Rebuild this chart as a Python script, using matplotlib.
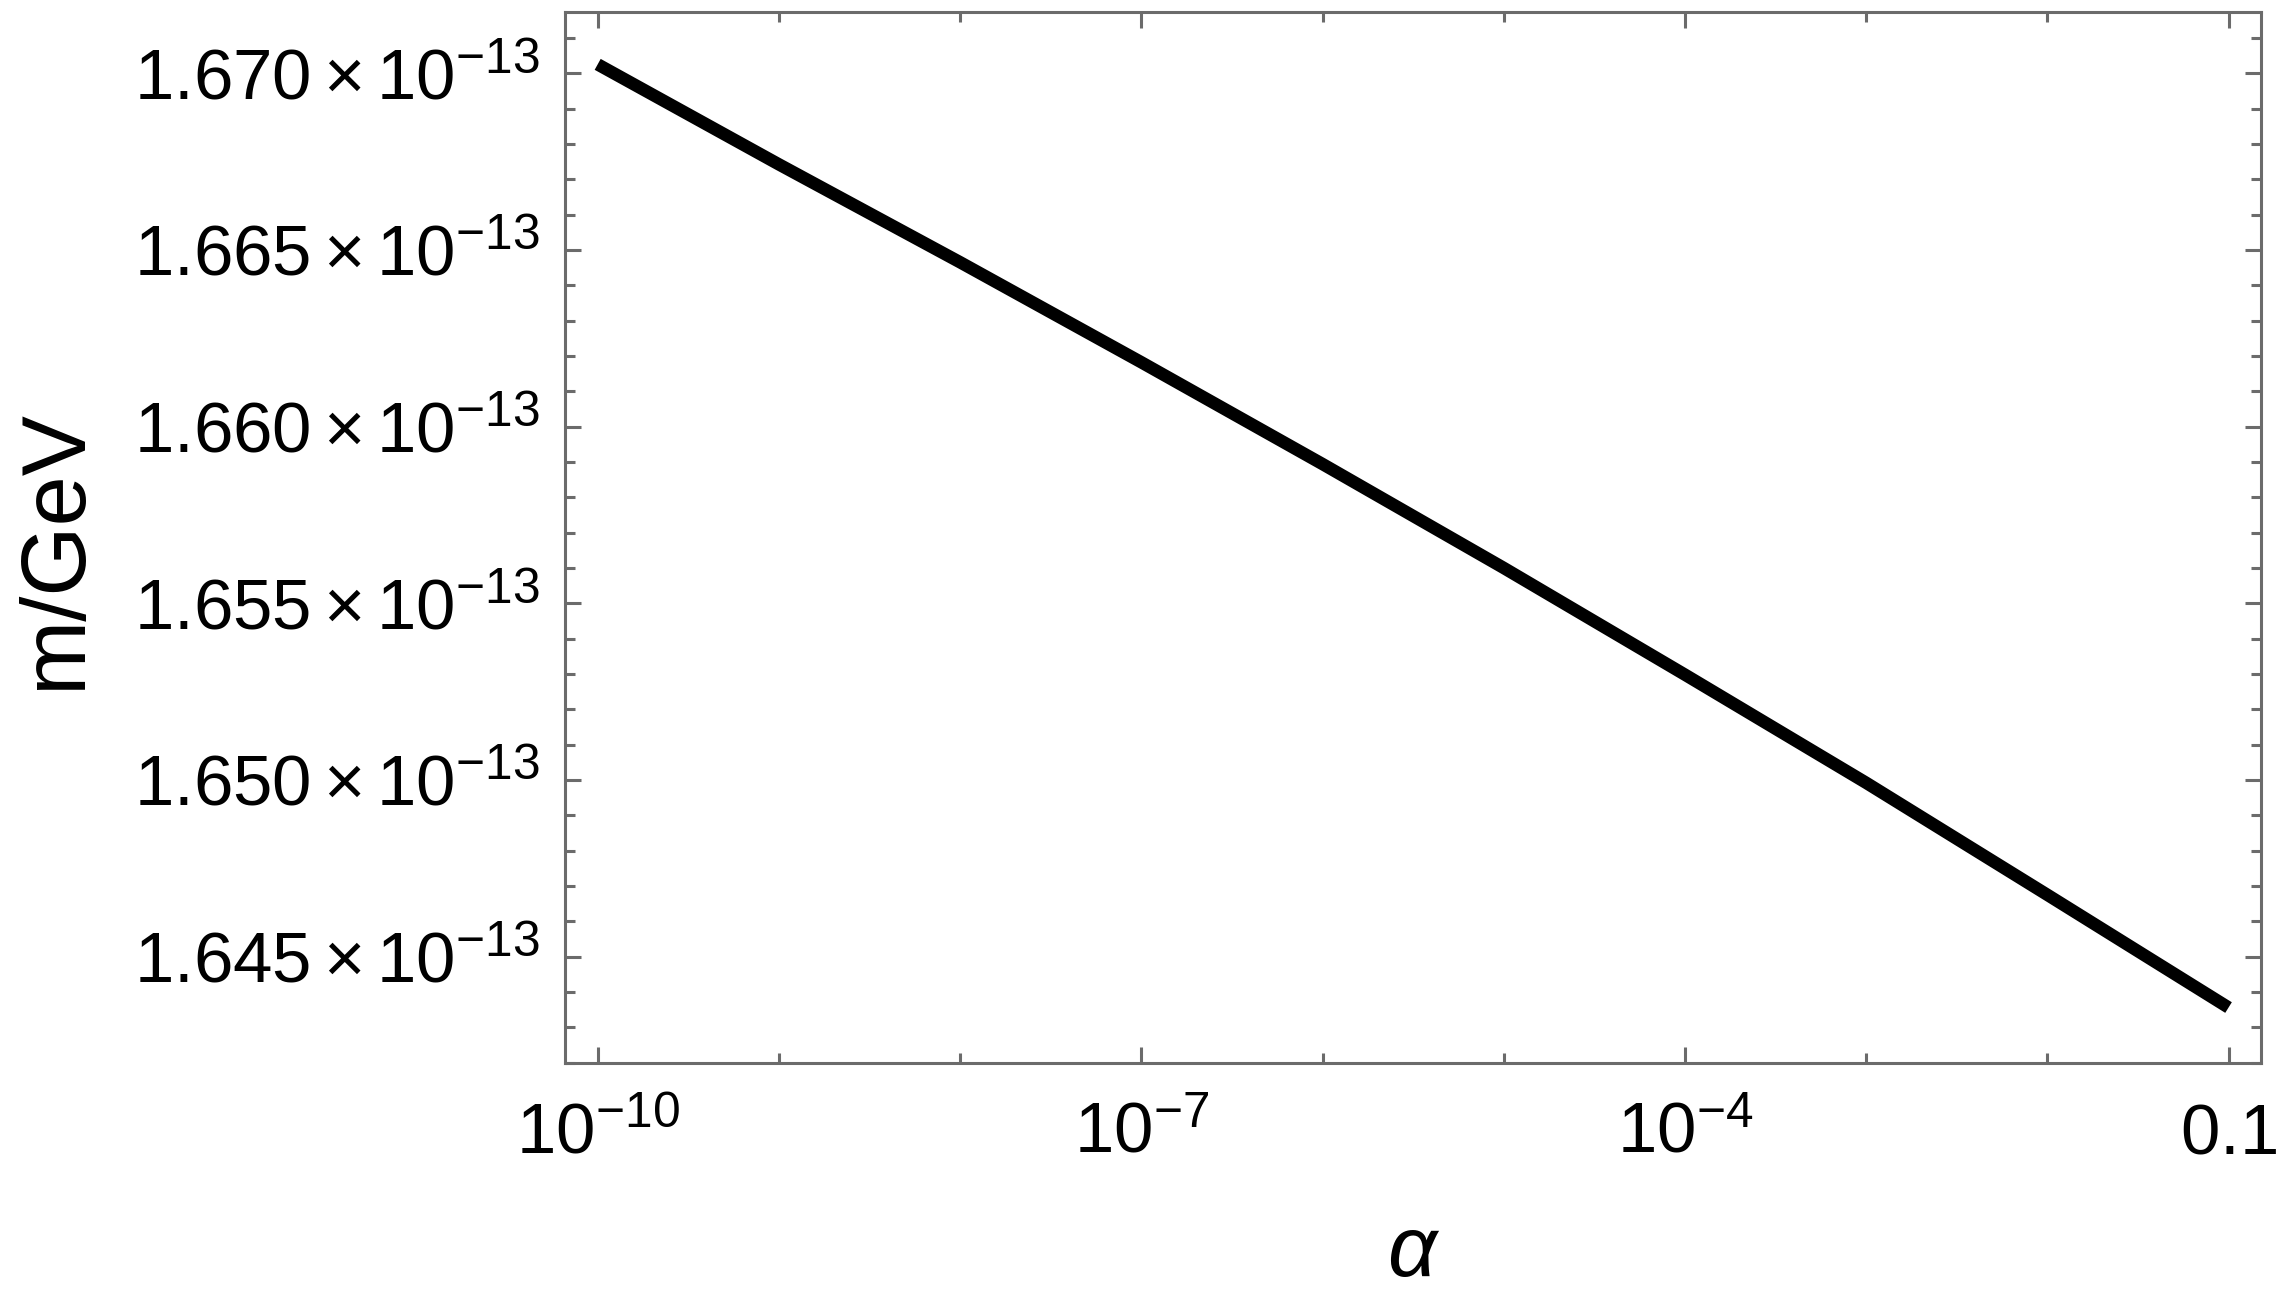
import numpy as np
import matplotlib
matplotlib.use("Agg")
import matplotlib.pyplot as plt

# ----- DATA (m in units of 1e-13 GeV) -----
alpha = [1e-10, 1e-9, 1e-8, 1e-7, 1e-6, 1e-5, 1e-4, 1e-3, 1e-2, 1e-1]
mass = [1.67025, 1.66742, 1.66465, 1.66182, 1.65894,
        1.65600, 1.65298, 1.64992, 1.64675, 1.64356]

x_ticks = [1e-10, 1e-7, 1e-4, 1e-1]
x_labels = [r'$10^{-10}$', r'$10^{-7}$', r'$10^{-4}$', r'$0.1$']
y_ticks = [1.645, 1.650, 1.655, 1.660, 1.665, 1.670]
y_labels = [r'$%.3f\times10^{-13}$' % v for v in y_ticks]

# ----- style -----
plt.rcParams['font.family'] = ['Liberation Sans', 'DejaVu Sans']
plt.rcParams['mathtext.fontset'] = 'custom'
plt.rcParams['mathtext.rm'] = 'Liberation Sans'
plt.rcParams['mathtext.it'] = 'Liberation Sans:italic'
plt.rcParams['mathtext.default'] = 'rm'

FRAME = '#6b6b6b'

fig = plt.figure(figsize=(22.84, 12.97), dpi=100)
ax = fig.add_axes([0.2474, 0.1804, 0.7426, 0.8103])

ax.semilogx(alpha, mass, color='black', lw=9, solid_capstyle='butt')

ax.set_xlim(10**-10.18, 10**-0.82)
ax.set_ylim(1.64199, 1.67173)

ax.set_xticks(x_ticks, x_labels)
ax.set_xticks([1e-9, 1e-8, 1e-6, 1e-5, 1e-3, 1e-2], minor=True)
ax.xaxis.set_minor_formatter(matplotlib.ticker.NullFormatter())
ax.set_yticks(y_ticks, y_labels)
ax.set_yticks(np.arange(1.642, 1.6716, 0.001), minor=True)

for s in ax.spines.values():
    s.set_color(FRAME)
    s.set_linewidth(2.2)

ax.tick_params(which='both', direction='in', top=True, right=True,
               color=FRAME, width=2.2, labelsize=51, labelcolor='black')
ax.tick_params(which='major', length=11.5)
ax.tick_params(which='minor', length=7)
ax.tick_params(axis='y', pad=18)
ax.tick_params(axis='x', pad=65)
plt.setp(ax.get_xticklabels(), va='baseline')

ax.set_xlabel(r'$\mathit{\alpha}$', fontsize=62, va='baseline')
ax.xaxis.set_label_coords(0.5, -0.2030)
ax.set_ylabel('m/GeV', fontsize=65, va='center', ha='center')
ax.yaxis.set_label_coords(-0.300, 0.489)

fig.savefig('out.png', dpi=100, facecolor='white')
